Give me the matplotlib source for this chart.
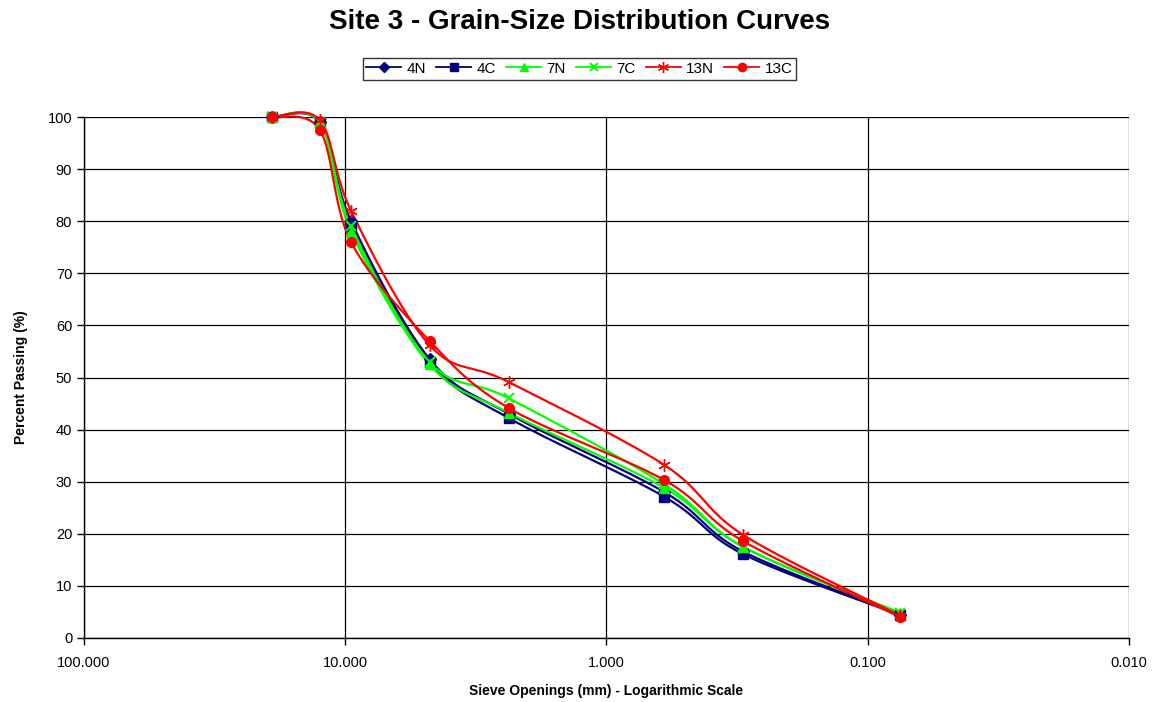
"""
Site 3 grain-size distribution curves (Excel-style smoothed lines).
"""
import matplotlib
matplotlib.use("Agg")
import matplotlib.pyplot as plt
import numpy as np
from matplotlib.ticker import FixedLocator, FuncFormatter, NullLocator

plt.rcParams["font.family"] = ["Liberation Sans", "DejaVu Sans"]

# ── Data ───────────────────────────────────────────────────────────────────
sieve_mm = [19.0, 12.5, 9.5, 4.75, 2.36, 0.6, 0.3, 0.075]

pass_4N  = [100, 99.0, 80.0, 53.5, 43.0, 28.0, 16.6, 4.5]
pass_4C  = [100, 99.0, 79.0, 53.0, 42.2, 27.1, 16.1, 4.4]
pass_7N  = [100, 99.0, 78.0, 52.5, 43.2, 28.8, 17.5, 4.8]
pass_7C  = [100, 99.0, 79.0, 53.0, 46.0, 29.5, 17.5, 4.8]
pass_13N = [100, 99.4, 82.0, 56.2, 49.1, 33.2, 19.8, 4.3]
pass_13C = [100, 97.5, 76.0, 57.0, 44.1, 30.3, 18.6, 4.0]

SERIES = [
    ("4N",  pass_4N,  "#000080", "D", 6),
    ("4C",  pass_4C,  "#000080", "s", 7),
    ("7N",  pass_7N,  "#00FF00", "^", 7),
    ("7C",  pass_7C,  "#00FF00", "x", 7),
    ("13N", pass_13N, "#FF0000", (6, 2, 0), 9),
    ("13C", pass_13C, "#FF0000", "o", 7),
]


def smooth(xs, ys, n=30):
    """Catmull-Rom through points in (log10 x, y) space, like Excel smoothing."""
    lx = np.log10(np.asarray(xs, float))
    y = np.asarray(ys, float)
    P = np.column_stack([lx, y])
    P = np.vstack([P[0], P, P[-1]])
    out = []
    t = np.linspace(0, 1, n)[:, None]
    for i in range(1, len(P) - 2):
        p0, p1, p2, p3 = P[i - 1], P[i], P[i + 1], P[i + 2]
        c = 0.5 * (2 * p1 + (-p0 + p2) * t
                   + (2 * p0 - 5 * p1 + 4 * p2 - p3) * t ** 2
                   + (-p0 + 3 * p1 - 3 * p2 + p3) * t ** 3)
        out.append(c if i == 1 else c[1:])
    c = np.vstack(out)
    return 10 ** c[:, 0], c[:, 1]


# ── Figure ─────────────────────────────────────────────────────────────────
fig = plt.figure(figsize=(11.59, 7.02), dpi=100)
fig.patch.set_facecolor("white")
ax = fig.add_axes([0.0725, 0.0912, 0.9015, 0.7421])

ax.set_xscale("log")
ax.set_xlim(100, 0.01)
ax.set_ylim(0, 100)

for name, vals, col, mk, ms in SERIES:
    sx, sy = smooth(sieve_mm, vals)
    ax.plot(sx, sy, color=col, lw=1.6, zorder=3, clip_on=False)
    ax.plot(sieve_mm, vals, linestyle="none", marker=mk, color=col,
            markersize=ms, markeredgewidth=1.5 if mk == "x" else 1.0,
            zorder=4, clip_on=False)
    # legend proxy
    ax.plot([], [], color=col, lw=1.3, marker=mk, markersize=ms - 1,
            markeredgewidth=1.5 if mk == "x" else 1.0, label=name)

# ── Axes styling ───────────────────────────────────────────────────────────
ax.xaxis.set_major_locator(FixedLocator([100, 10, 1, 0.1, 0.01]))
ax.xaxis.set_minor_locator(NullLocator())
ax.xaxis.set_major_formatter(FuncFormatter(lambda v, p: f"{v:.3f}"))
ax.set_yticks(np.arange(0, 101, 10))

ax.grid(True, which="major", color="black", lw=0.9, zorder=1)
for s in ("top", "right"):
    ax.spines[s].set_visible(False)
for s in ("left", "bottom"):
    ax.spines[s].set_color("black")
    ax.spines[s].set_linewidth(1.0)

ax.tick_params(axis="both", direction="out", length=5, width=1,
               labelsize=10.5, color="black")
ax.tick_params(axis="x", pad=8)

ax.set_xlabel("Sieve Openings (mm) - Logarithmic Scale", fontsize=10,
              fontweight="bold", labelpad=10)
ax.set_ylabel("Percent Passing (%)", fontsize=10, fontweight="bold",
              labelpad=14)

fig.text(0.5, 0.968, "Site 3 - Grain-Size Distribution Curves",
         ha="center", va="center", fontsize=20, fontweight="bold")

leg = fig.legend(loc="center", bbox_to_anchor=(0.5, 0.902), ncol=6,
                 fontsize=11, frameon=True, fancybox=False,
                 handlelength=2.3, handletextpad=0.35, columnspacing=0.65,
                 borderpad=0.25, borderaxespad=0)
leg.get_frame().set_edgecolor("black")
leg.get_frame().set_linewidth(1.0)

fig.savefig("out.png", dpi=100, facecolor="white")
plt.close(fig)
